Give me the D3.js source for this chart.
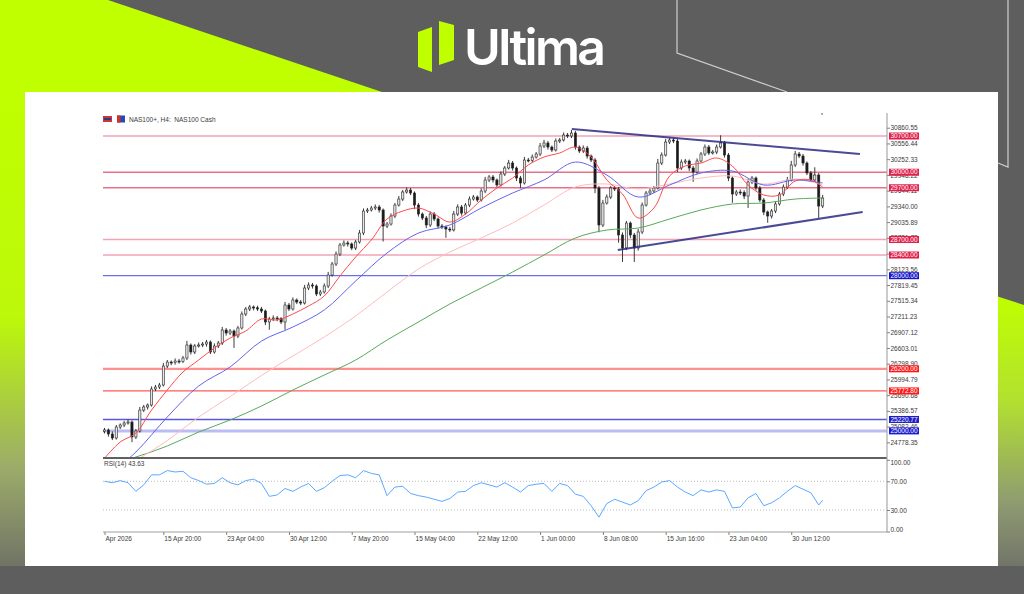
<!DOCTYPE html>
<html>
<head>
<meta charset="utf-8">
<script src="https://cdn.jsdelivr.net/npm/d3@7"></script>
<style>
  html, body { margin: 0; padding: 0; background: #5e5e5e; }
  svg { display: block; }
  text { font-family: "Liberation Sans", Arial, sans-serif; }
</style>
</head>
<body>
<div id="chart"></div>
<script>
///////////////////////////////////////////////////////////////////////////
//////////////////////////// data /////////////////////////////////////////
///////////////////////////////////////////////////////////////////////////

const firstOpen = 24990;
const closes = [
  25017, 24940, 24862, 25075, 25114, 25152, 25171, 24882, 24998, 25403,
  25462, 25500, 25810, 25848, 25887, 26254, 26331, 26320, 26351, 26340,
  26409, 26660, 26525, 26641, 26660, 26679, 26718, 26525, 26641, 26699,
  26950, 26892, 26931, 26834, 26989, 27259, 27356, 27395, 27380, 27356,
  27317, 27105, 27163, 27182, 27170, 27105, 27433, 27356, 27530, 27491,
  27472, 27762, 27820, 27801, 27646, 27685, 27801, 28013, 28226, 28419,
  28593, 28632, 28613, 28535, 28651, 28825, 29250, 29270, 29308, 29328,
  29270, 28960, 28999, 29154, 29366, 29482, 29618, 29656, 29598, 29366,
  29192, 29115, 28980, 29192, 29096, 28960, 28941, 28902, 28884, 29192,
  29328, 29212, 29366, 29482, 29521, 29463, 29637, 29850, 29908, 29850,
  29753, 29966, 30082, 30178, 30082, 29888, 29792, 30236, 30230, 30294,
  30352, 30507, 30565, 30487, 30430, 30603, 30623, 30719, 30700, 30758,
  30487, 30410, 30468, 30313, 30236, 29695, 28980, 29405, 29521, 29695,
  29676, 28787, 28535, 29018, 28787, 28535, 28845, 29366, 29598, 29637,
  29695, 30178, 30333, 30584, 30623, 30603, 30082, 30197, 30217, 30082,
  30004, 30217, 30352, 30487, 30372, 30391, 30487, 30565, 30333, 29888,
  29579, 29618, 29610, 29540, 29811, 29888, 29695, 29463, 29231, 29154,
  29250, 29386, 29579, 29714, 29850, 30140, 30352, 30313, 30178, 29985,
  29850, 29946, 29347, 29502
];
// wick lengths above / below the body, in points
const wickHi = [
  40, 30, 50, 40, 30, 40, 50, 30, 40, 60,
  40, 30, 50, 40, 40, 60, 40, 30, 50, 40,
  40, 80, 30, 40, 50, 40, 40, 30, 50, 40,
  60, 40, 40, 30, 40, 50, 40, 40, 30, 40,
  40, 30, 40, 50, 40, 30, 60, 40, 50, 30,
  40, 60, 50, 40, 30, 40, 50, 60, 40, 50,
  40, 50, 40, 30, 40, 60, 50, 40, 40, 50,
  40, 30, 40, 50, 40, 60, 40, 50, 40, 30,
  40, 30, 40, 50, 40, 30, 40, 30, 40, 60,
  50, 40, 40, 50, 40, 30, 50, 60, 40, 40,
  30, 50, 40, 60, 40, 30, 40, 60, 40, 50,
  40, 60, 60, 40, 30, 50, 40, 50, 40, 60,
  40, 30, 50, 40, 30, 40, 40, 60, 50, 40,
  40, 40, 50, 40, 30, 40, 60, 50, 40, 50,
  40, 80, 50, 60, 50, 40, 40, 50, 40, 30,
  40, 50, 40, 50, 40, 40, 50, 150, 40, 40,
  30, 40, 50, 40, 60, 40, 30, 40, 40, 30,
  40, 50, 40, 50, 60, 80, 60, 40, 40, 30,
  40, 150, 40, 60
];
const wickLo = [
  40, 50, 40, 30, 40, 40, 30, 100, 40, 30,
  40, 50, 30, 40, 40, 30, 40, 50, 40, 40,
  30, 40, 50, 40, 30, 40, 50, 40, 30, 40,
  40, 50, 40, 230, 40, 30, 40, 40, 50, 40,
  40, 60, 150, 40, 50, 40, 150, 40, 30, 40,
  40, 30, 40, 50, 40, 40, 30, 40, 30, 40,
  40, 30, 50, 40, 40, 30, 40, 40, 30, 40,
  50, 300, 40, 30, 40, 30, 40, 30, 40, 80,
  50, 40, 60, 40, 40, 50, 40, 170, 40, 30,
  40, 50, 30, 40, 30, 40, 30, 40, 40, 50,
  40, 30, 40, 30, 50, 60, 100, 30, 40, 40,
  30, 40, 40, 50, 40, 30, 40, 30, 40, 40,
  50, 40, 40, 50, 40, 100, 140, 40, 30, 40,
  40, 150, 270, 40, 60, 270, 50, 40, 30, 40,
  40, 30, 40, 30, 40, 40, 80, 40, 40, 60,
  190, 40, 30, 40, 40, 30, 40, 30, 50, 60,
  170, 40, 50, 60, 230, 40, 50, 40, 60, 130,
  50, 40, 30, 40, 40, 30, 40, 40, 50, 40,
  40, 40, 230, 40
];

// moving averages, sampled every N candles (history starts below the chart)
const maFastStep = 4;
const maRed = [
  24470, 24785, 24959, 25404, 25790, 26138, 26370, 26602, 26795, 26931,
  27163, 27143, 27259, 27414, 27607, 27994, 28361, 28690, 29096, 29250,
  29308, 29192, 29038, 29192, 29463, 29695, 29888, 30140, 30294, 30372,
  30487, 30294, 29850, 29579, 29115, 29308, 29927, 30120, 30178, 30275,
  30120, 29753, 29560, 29560, 29830, 29850, 29714
];
const maSlowStep = 8;
const maBlue = [
  24080, 24592, 25268, 25868, 26235, 26737, 27008, 27337, 27897, 28439,
  28825, 28980, 29308, 29598, 29850, 30197, 29946, 29521, 29753, 29985,
  30024, 29753, 29850, 29792
];
const maPink = [
  23935, 24418, 24812, 25268, 25663, 26071, 26447, 26815, 27221, 27685,
  28129, 28458, 28729, 29018, 29366, 29714, 29772, 29676, 29772, 29888,
  29927, 29772, 29869, 29753
];
const maGreen = [
  24321, 24495, 24708, 24978, 25210, 25481, 25790, 26080, 26370, 26757,
  27105, 27453, 27762, 28071, 28400, 28729, 28883, 28922, 29096, 29270,
  29386, 29405, 29482, 29502
];

// RSI(14), sampled every 2 candles
const rsiStep = 2;
const rsiValues = [
  70, 68, 71, 68, 56, 65, 79, 79, 85, 83,
  84, 75, 71, 66, 67, 75, 68, 65, 71, 73,
  67, 49, 51, 60, 56, 62, 67, 56, 61, 70,
  78, 79, 75, 85, 81, 79, 50, 62, 63, 53,
  50, 48, 45, 42, 46, 55, 56, 64, 68, 65,
  62, 68, 62, 55, 64, 66, 67, 56, 67, 64,
  52, 49, 36, 20, 39, 45, 41, 37, 43, 57,
  62, 69, 71, 62, 55, 50, 58, 55, 58, 56,
  33, 34, 47, 53, 36, 40, 47, 56, 64, 59,
  54, 37, 43.63
];

// horizontal levels and trend lines ([candle index, price])
const levels = [30700, 30000, 29700, 28700, 28400, 28000, 26200, 25772.8, 25220.77, 25000];
const trendUpper = [[119.1, 30835], [192.5, 30352]];
const trendLower = [[130.8, 28497], [193.2, 29231]];

// axis ticks
const priceTicks = [
  30860.55, 30556.44, 30252.33, 29948.22, 29644.11, 29340.0, 29035.89,
  28731.78, 28427.67, 28123.56, 27819.45, 27515.34, 27211.23, 26907.12,
  26603.01, 26298.9, 25994.79, 25690.68, 25386.57, 25082.46, 24778.35
];
const rsiTicks = [100, 70, 30, 0];
const dateTickIdx = [0, 15, 31, 47, 63, 79, 95, 111, 127, 143, 159, 175];
const dateTickLabels = [
  "Apr 2026", "15 Apr 20:00", "23 Apr 04:00", "30 Apr 12:00", "7 May 20:00",
  "15 May 04:00", "22 May 12:00", "1 Jun 00:00", "8 Jun 08:00",
  "15 Jun 16:00", "23 Jun 04:00", "30 Jun 12:00"
];
const headerText = "NAS100+, H4:  NAS100 Cash";
const rsiText = "RSI(14) 43.63";
const brand = "Ultima";

///////////////////////////////////////////////////////////////////////////
//////////////////////////// drawing function /////////////////////////////
///////////////////////////////////////////////////////////////////////////

const createChart = () => {
	const width = 1024;
	const height = 594;
	const lime = "#bfff00";

	const svg = d3
		.select("#chart")
		.append("svg")
		.attr("width", width)
		.attr("height", height);
	const defs = svg.append("defs");

	//////////////////////////// background ///////////////////////////////////

	svg.append("rect").attr("width", width).attr("height", height).attr("fill", "#5e5e5e");

	const fade = (id, y1, y2, stops) => {
		const g = defs
			.append("linearGradient")
			.attr("id", id)
			.attr("gradientUnits", "userSpaceOnUse")
			.attr("x1", 0).attr("x2", 0)
			.attr("y1", y1).attr("y2", y2);
		stops.forEach(([o, c]) => g.append("stop").attr("offset", o).attr("stop-color", c));
	};
	fade("leftFade", 92, 594, [[0, lime], [0.45, "#bcf80a"], [0.75, "#9cab6a"], [1, "#646464"]]);
	fade("rightFade", 297, 594, [[0, lime], [0.35, "#b2e030"], [0.7, "#8e9a72"], [1, "#646464"]]);

	svg.append("polygon").attr("points", "0,0 108,0 382,92 0,92").attr("fill", lime);
	svg.append("rect").attr("x", 0).attr("y", 92).attr("width", 30).attr("height", 502).attr("fill", "url(#leftFade)");
	svg.append("polygon").attr("points", "990,294 1024,305 1024,594 990,594").attr("fill", "url(#rightFade)");
	svg.append("rect").attr("x", 0).attr("y", 566).attr("width", width).attr("height", 28).attr("fill", "#5e5e5e");

	svg.append("polyline").attr("points", "677,0 677,53 787,92")
		.attr("fill", "none").attr("stroke", "#cfcfcf").attr("stroke-width", 1.2);
	svg.append("polyline").attr("points", "998,163 1008,167 1008,0")
		.attr("fill", "none").attr("stroke", "#cfcfcf").attr("stroke-width", 1.2);

	// logo
	svg.append("polygon").attr("points", "418,32 432,27 432,72 418,67").attr("fill", lime);
	svg.append("polygon").attr("points", "439,21 454,25 454,60 439,65").attr("fill", lime);
	svg.append("text")
		.attr("x", 464).attr("y", 65)
		.attr("textLength", 142)
		.style("font-family", "Inter, 'Open Sans', sans-serif")
		.style("font-weight", 600)
		.style("font-size", "50px")
		.attr("fill", "#ffffff")
		.text(brand);

	// white card
	svg.append("rect").attr("x", 25).attr("y", 92).attr("width", 973).attr("height", 474).attr("fill", "#ffffff");

	//////////////////////////// scales ///////////////////////////////////////

	const plot = { left: 103, right: 887, top: 113, bottom: 458, rsiTop: 459, rsiBottom: 532 };

	const xScale = d3.scaleLinear().domain([0, 199.4]).range([104.5, 887]);
	const yScale = d3.scaleLinear().domain([24476, 31145]).range([458, 113]);
	const rsiScale = d3.scaleLinear().domain([0, 100]).range([531.5, 459.8]);
	const lastIdx = closes.length - 1;

	defs.append("clipPath").attr("id", "priceClip")
		.append("rect")
		.attr("x", plot.left).attr("y", plot.top)
		.attr("width", plot.right - plot.left).attr("height", plot.bottom - plot.top);

	const chart = svg.append("g");
	const price = chart.append("g").attr("clip-path", "url(#priceClip)");

	//////////////////////////// levels ///////////////////////////////////////

	const levelStyle = {
		30700: { line: "#f2a3b4", w: 1.5, box: "#e0204a" },
		30000: { line: "#e8708a", w: 1.5, box: "#e0204a" },
		29700: { line: "#e8708a", w: 1.5, box: "#e0204a" },
		28700: { line: "#f2a3b4", w: 1.5, box: "#e0204a" },
		28400: { line: "#f2a3b4", w: 1.5, box: "#e0204a" },
		28000: { line: "#4b4be0", w: 1, box: "#1414cc" },
		26200: { line: "#ff9090", w: 2.2, box: "#ff1a1a" },
		25772.8: { line: "#ff5a5a", w: 1.2, box: "#ff1a1a" },
		25220.77: { line: "#5858dc", w: 1.5, box: "#1e1ec8" },
		25000: { line: "#bcbcf4", w: 3, box: "#1a1ad0" }
	};

	price.selectAll(".level")
		.data(levels)
		.join("line")
		.attr("class", "level")
		.attr("x1", plot.left).attr("x2", plot.right)
		.attr("y1", (d) => yScale(d)).attr("y2", (d) => yScale(d))
		.attr("stroke", (d) => levelStyle[d].line)
		.attr("stroke-width", (d) => levelStyle[d].w);

	//////////////////////////// candles //////////////////////////////////////

	const candles = closes.map((c, i) => {
		const o = i === 0 ? firstOpen : closes[i - 1];
		return { i, o, c, h: Math.max(o, c) + wickHi[i], l: Math.min(o, c) - wickLo[i] };
	});

	const cg = price.selectAll(".candle").data(candles).join("g").attr("class", "candle");
	cg.append("line")
		.attr("x1", (d) => xScale(d.i)).attr("x2", (d) => xScale(d.i))
		.attr("y1", (d) => yScale(d.h)).attr("y2", (d) => yScale(d.l))
		.attr("stroke", "#262626").attr("stroke-width", 0.9);
	cg.append("rect")
		.attr("x", (d) => xScale(d.i) - 1.1)
		.attr("width", 2.2)
		.attr("y", (d) => yScale(Math.max(d.o, d.c)))
		.attr("height", (d) => Math.max(1, Math.abs(yScale(d.o) - yScale(d.c))))
		.attr("fill", (d) => (d.c >= d.o ? "#e6e6e6" : "#1a1a1a"))
		.attr("stroke", "#262626").attr("stroke-width", 0.6);

	//////////////////////////// moving averages //////////////////////////////

	const maLine = (step) =>
		d3.line()
			.x((d, j) => xScale(Math.min(j * step, lastIdx)))
			.y((d) => yScale(d))
			.curve(d3.curveCatmullRom);

	[
		[maGreen, maSlowStep, "#58aa58"],
		[maPink, maSlowStep, "#ffbcbc"],
		[maBlue, maSlowStep, "#6464f0"],
		[maRed, maFastStep, "#ff4a4a"]
	].forEach(([vals, step, color]) => {
		price.append("path")
			.datum(vals)
			.attr("d", maLine(step))
			.attr("fill", "none")
			.attr("stroke", color)
			.attr("stroke-width", 1);
	});

	//////////////////////////// trend lines //////////////////////////////////

	const trend = d3.line().x((d) => xScale(d[0])).y((d) => yScale(d[1]));
	[trendUpper, trendLower].forEach((t) => {
		chart.append("path")
			.datum(t)
			.attr("d", trend)
			.attr("stroke", "#2a2a84")
			.attr("stroke-width", 2)
			.attr("stroke-opacity", 0.85);
	});

	//////////////////////////// panel frame //////////////////////////////////

	chart.append("line")
		.attr("x1", plot.left).attr("x2", plot.right)
		.attr("y1", plot.bottom).attr("y2", plot.bottom)
		.attr("stroke", "#606060").attr("stroke-width", 2);
	chart.append("line")
		.attr("x1", plot.left).attr("x2", plot.right)
		.attr("y1", plot.rsiBottom).attr("y2", plot.rsiBottom)
		.attr("stroke", "#a0a0a0").attr("stroke-width", 1);
	chart.append("line")
		.attr("x1", plot.right).attr("x2", plot.right)
		.attr("y1", plot.top).attr("y2", plot.rsiBottom)
		.attr("stroke", "#a8a8a8").attr("stroke-width", 1.2);

	//////////////////////////// rsi //////////////////////////////////////////

	chart.selectAll(".rsiLevel")
		.data([70, 30])
		.join("line")
		.attr("class", "rsiLevel")
		.attr("x1", plot.left).attr("x2", plot.right)
		.attr("y1", (d) => rsiScale(d)).attr("y2", (d) => rsiScale(d))
		.attr("stroke", "#bdbdbd").attr("stroke-dasharray", "1,2");

	chart.append("path")
		.datum(rsiValues)
		.attr("d", d3.line()
			.x((d, m) => xScale(Math.min(m * rsiStep, lastIdx)))
			.y((d) => rsiScale(d)))
		.attr("fill", "none")
		.attr("stroke", "#5aa8ff")
		.attr("stroke-width", 1);

	//////////////////////////// axes /////////////////////////////////////////

	const styleAxis = (g) => {
		g.select(".domain").remove();
		g.selectAll("line").attr("stroke", "#808080");
		g.selectAll("text").attr("fill", "#3a3a3a").style("font-size", "6.5px")
			.style("font-family", "'Liberation Sans', Arial, sans-serif");
	};

	// a tick label that sits fully under a level tag is not visible in MT4
	const hiddenByTag = (v) => levels.some((l) => Math.abs(yScale(l) - yScale(v)) < 1.5);

	chart.append("g")
		.attr("transform", `translate(${plot.right},0)`)
		.call(d3.axisRight(yScale).tickValues(priceTicks).tickSize(3).tickPadding(0.5)
			.tickFormat((d) => (hiddenByTag(d) ? "" : d3.format(".2f")(d))))
		.call(styleAxis);

	chart.append("g")
		.attr("transform", `translate(${plot.right},0)`)
		.call(d3.axisRight(rsiScale).tickValues(rsiTicks).tickSize(3).tickPadding(0.5).tickFormat(d3.format(".2f")))
		.call(styleAxis)
		.call((g) => g.selectAll("text").attr("dy", (d) => (d === 100 ? "0.75em" : d === 0 ? "0em" : "0.32em")));

	chart.append("g")
		.attr("transform", `translate(0,${plot.rsiBottom})`)
		.call(d3.axisBottom(xScale).tickValues(dateTickIdx).tickSize(3).tickPadding(1)
			.tickFormat((d, i) => dateTickLabels[i]))
		.call(styleAxis)
		.call((g) => g.selectAll("text").attr("text-anchor", "start").attr("dx", 0.5));

	// level price tags over the axis
	const tags = chart.selectAll(".tag").data(levels).join("g").attr("class", "tag");
	tags.append("rect")
		.attr("x", plot.right + 2).attr("width", 30)
		.attr("y", (d) => yScale(d) - 3.5).attr("height", 7)
		.attr("fill", (d) => levelStyle[d].box);
	tags.append("text")
		.attr("x", plot.right + 17).attr("y", (d) => yScale(d))
		.attr("dy", "0.34em")
		.attr("text-anchor", "middle")
		.attr("fill", "#ffffff")
		.style("font-size", "6.5px")
		.text((d) => d3.format(".2f")(d));

	//////////////////////////// header ///////////////////////////////////////

	chart.append("rect").attr("x", 103).attr("y", 116).attr("width", 9).attr("height", 6).attr("fill", "#c83838");
	chart.append("rect").attr("x", 104).attr("y", 118).attr("width", 7).attr("height", 2).attr("fill", "#2a3a90");
	chart.append("rect").attr("x", 117).attr("y", 115.5).attr("width", 8).attr("height", 7).attr("fill", "#2a48b0");
	chart.append("rect").attr("x", 117).attr("y", 115.5).attr("width", 3.5).attr("height", 7).attr("fill", "#d03030");
	chart.append("text")
		.attr("x", 129).attr("y", 121.5)
		.attr("xml:space", "preserve")
		.attr("fill", "#3a3a3a")
		.style("font-size", "6.5px")
		.text(headerText);
	chart.append("rect").attr("x", 821).attr("y", 113).attr("width", 2).attr("height", 2).attr("fill", "#b0b0b0");

	chart.append("text")
		.attr("x", 104).attr("y", 466)
		.attr("fill", "#3a3a3a")
		.style("font-size", "6.5px")
		.text(rsiText);
};

createChart();
</script>
</body>
</html>
